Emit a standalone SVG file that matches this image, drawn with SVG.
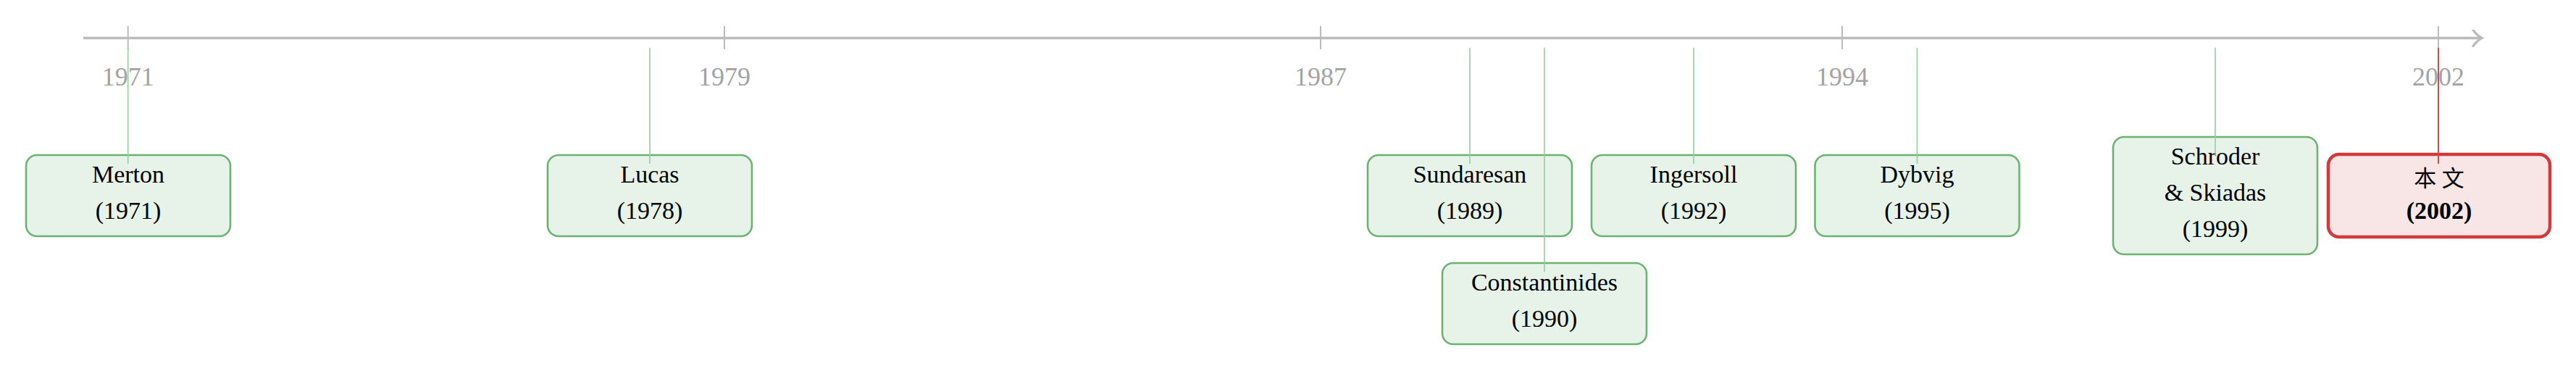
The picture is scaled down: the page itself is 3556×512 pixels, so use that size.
<svg xmlns="http://www.w3.org/2000/svg" width="3556" height="512" viewBox="0 0 3556 512">
<style>
.axis{stroke:#bbbbbb;stroke-width:3.3;fill:none}
.tick{stroke:#bbbbbb;stroke-width:2}
.year{font-family:"Liberation Serif","DejaVu Serif",serif;font-size:36px;fill:#a3a3a3;text-anchor:middle}
.conn{stroke:#95cda1;stroke-width:1.6}
.connr{stroke:#d9474a;stroke-width:2}
.box{fill:#e7f3e8;stroke:#6cb373;stroke-width:2.6}
.boxr{fill:#f8e5e6;stroke:#d13a3b;stroke-width:4.5}
.lbl{font-family:"Liberation Serif","DejaVu Serif",serif;font-size:34px;fill:#000;text-anchor:middle}
.cjk{font-family:"Liberation Serif","Noto Sans CJK SC",serif;font-size:31px;fill:#000;text-anchor:middle}
.bold{font-weight:bold}
</style>
<defs>
<marker id="arr" markerUnits="userSpaceOnUse" markerWidth="30" markerHeight="30" refX="14" refY="12" orient="auto">
<path d="M2,1 Q8,9 14,12 Q8,15 2,23" fill="none" stroke="#bbbbbb" stroke-width="3.3" stroke-linecap="round"/>
</marker>
</defs>
<rect width="3556" height="512" fill="#ffffff"/>
<g id="axis">
<line class="axis" x1="115" y1="52.5" x2="3426" y2="52.5" marker-end="url(#arr)"/>
<line class="tick" x1="176.7" y1="36" x2="176.7" y2="68"/>
<line class="tick" x1="1000" y1="36" x2="1000" y2="68"/>
<line class="tick" x1="1823" y1="36" x2="1823" y2="68"/>
<line class="tick" x1="2543" y1="36" x2="2543" y2="68"/>
<line class="tick" x1="3366" y1="36" x2="3366" y2="68"/>
<text class="year" x="176.7" y="118">1971</text>
<text class="year" x="1000" y="118">1979</text>
<text class="year" x="1823" y="118">1987</text>
<text class="year" x="2543" y="118">1994</text>
<text class="year" x="3366" y="118">2002</text>
</g>
<g id="n-merton">
<rect class="box" x="36" y="214" width="282" height="112" rx="15"/>
<text class="lbl" x="177" y="252">Merton</text>
<text class="lbl" x="177" y="302">(1971)</text>
</g>
<g id="n-lucas">
<rect class="box" x="756" y="214" width="282" height="112" rx="15"/>
<text class="lbl" x="897" y="252">Lucas</text>
<text class="lbl" x="897" y="302">(1978)</text>
</g>
<g id="n-sundaresan">
<rect class="box" x="1888" y="214" width="282" height="112" rx="15"/>
<text class="lbl" x="2029" y="252">Sundaresan</text>
<text class="lbl" x="2029" y="302">(1989)</text>
</g>
<g id="n-constantinides">
<rect class="box" x="1991" y="363" width="282" height="112" rx="15"/>
<text class="lbl" x="2132" y="401">Constantinides</text>
<text class="lbl" x="2132" y="451">(1990)</text>
</g>
<g id="n-ingersoll">
<rect class="box" x="2197" y="214" width="282" height="112" rx="15"/>
<text class="lbl" x="2338" y="252">Ingersoll</text>
<text class="lbl" x="2338" y="302">(1992)</text>
</g>
<g id="n-dybvig">
<rect class="box" x="2505.5" y="214" width="282" height="112" rx="15"/>
<text class="lbl" x="2646.5" y="252">Dybvig</text>
<text class="lbl" x="2646.5" y="302">(1995)</text>
</g>
<g id="n-schroder">
<rect class="box" x="2917" y="189" width="282" height="162" rx="15"/>
<text class="lbl" x="3058" y="227">Schroder</text>
<text class="lbl" x="3058" y="277">&amp; Skiadas</text>
<text class="lbl" x="3058" y="327">(1999)</text>
</g>
<g id="n-this">
<rect class="boxr" x="3214" y="213" width="306" height="114" rx="15"/>
<text class="cjk" x="3367" y="257">本 文</text>
<text class="lbl bold" x="3367" y="302">(2002)</text>
</g>
<g id="connectors">
<line class="conn" x1="176.7" y1="66" x2="176.7" y2="226"/>
<line class="conn" x1="897" y1="66" x2="897" y2="226"/>
<line class="conn" x1="2029" y1="66" x2="2029" y2="226"/>
<line class="conn" x1="2132" y1="66" x2="2132" y2="375"/>
<line class="conn" x1="2338" y1="66" x2="2338" y2="226"/>
<line class="conn" x1="2646.5" y1="66" x2="2646.5" y2="226"/>
<line class="conn" x1="3058" y1="66" x2="3058" y2="215"/>
<line class="connr" x1="3366" y1="66" x2="3366" y2="226"/>
</g>
</svg>
